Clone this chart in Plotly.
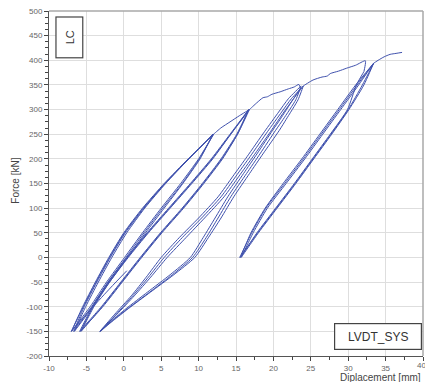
import plotly.graph_objects as go

# ---------------- data ----------------
# start of record and first move to -150 kN
start_disp = [0.4, -1.8, -4.2, -6.6]
start_force = [-27, -62, -102, -150]

# stage A: cycles between -150 and 250 kN
a_up_force = [-150, -100, -50, 0, 50, 100, 150, 200, 250]
a_down_force = [250, 200, 150, 100, 50, 0, -50, -100, -150]
a_up1 = [-6.6, -5.1, -3.4, -1.6, 0.4, 2.8, 5.6, 8.7, 12.0]
a_down1 = [12.0, 10.0, 7.6, 5.0, 2.5, 0.1, -2.3, -4.5, -7.0]
a_up2 = [-7.0, -5.5, -3.8, -2.0, 0.0, 2.5, 5.4, 8.6, 12.0]
a_down2 = [12.0, 10.1, 7.8, 5.2, 2.7, 0.3, -2.1, -4.3, -6.7]
a_up3 = [-6.7, -5.3, -3.6, -1.8, 0.2, 2.7, 5.5, 8.7, 11.9]
a_down3 = [11.9, 10.2, 7.9, 5.4, 2.9, 0.5, -1.9, -4.2, -7.0]
a_up4 = [-7.0, -5.4, -3.7, -1.9, 0.1, 2.6, 5.5, 8.7, 12.0]

# envelope from 250 to 300 kN
env_ab_disp = [12.0, 13.0, 14.2, 15.5, 16.8]
env_ab_force = [250, 263, 275, 288, 300]

# stage B: cycles between -150 and 300 kN
b_down_force = [300, 250, 200, 150, 100, 50, 0, -50, -100, -150]
b_up_force = [-150, -100, -50, 0, 50, 100, 150, 200, 250, 300]
b_down1 = [16.8, 15.2, 13.1, 10.6, 7.9, 5.0, 2.3, -0.3, -2.9, -5.7]
b_up1 = [-5.7, -4.0, -1.9, 0.6, 3.3, 6.2, 9.1, 11.9, 14.3, 16.7]
b_down2 = [16.7, 15.1, 13.0, 10.5, 7.8, 4.9, 2.2, -0.4, -3.0, -5.9]
b_up2 = [-5.9, -4.2, -2.1, 0.4, 3.1, 6.0, 8.9, 11.7, 14.2, 16.7]
b_down3 = [16.7, 15.2, 13.2, 10.7, 8.0, 5.1, 2.4, -0.2, -2.8, -5.8]
b_up3 = [-5.8, -4.1, -2.0, 0.5, 3.2, 6.1, 9.0, 11.8, 14.3, 16.8]

# envelope from 300 to 350 kN
env_bc_disp = [16.8, 17.8, 18.6, 19.2, 19.8, 20.9, 22.0, 22.8, 23.4, 23.6]
env_bc_force = [300, 314, 324, 326, 331, 336, 342, 346, 351, 343]

# stage C: cycles between -150 and 350 kN
c_down_force = [343, 320, 280, 258, 210, 170, 123, 80, 40, 0, -35, -70, -104, -128, -150]
c_up_force = [-150, -115, -78, -40, 0, 40, 80, 123, 165, 205, 255, 295, 322, 348]
c_down1 = [23.6, 22.6, 20.9, 19.9, 17.8, 16.0, 13.9, 12.2, 10.6, 8.9, 6.2, 3.2, 0.3, -1.6, -3.2]
c_up1 = [-3.2, -1.2, 1.0, 3.0, 5.0, 7.4, 10.0, 12.6, 14.6, 16.5, 18.8, 20.7, 22.0, 23.7]
c_down2 = [23.7, 23.0, 21.3, 20.3, 18.2, 16.4, 14.3, 12.6, 11.0, 9.2, 6.5, 3.5, 0.5, -1.5, -3.1]
c_up2 = [-3.1, -1.0, 1.2, 3.3, 5.4, 7.8, 10.4, 13.0, 15.0, 16.9, 19.2, 21.1, 22.4, 24.0]
c_down3 = [24.0, 23.3, 21.7, 20.8, 18.6, 16.8, 14.7, 13.0, 11.3, 9.5, 6.7, 3.6, 0.6, -1.4, -3.2]
c_up3 = [-3.2, -0.9, 1.4, 3.6, 5.8, 8.3, 10.8, 13.4, 15.4, 17.3, 19.6, 21.4, 22.7, 24.0]

# envelope from 350 to 400 kN
env_cd_disp = [24.0, 25.3, 26.5, 27.2, 27.6, 28.7, 29.8, 31.0, 32.3, 32.1]
env_cd_force = [348, 360, 366, 368, 373, 378, 384, 390, 399, 377]

# stage D: cycles between 0 and 400 kN
d_down_force = [377, 350, 300, 250, 200, 150, 100, 50, 0]
d_up_force = [0, 50, 100, 150, 200, 250, 300, 350, 394]
d_down1 = [32.1, 31.1, 29.9, 27.6, 25.2, 22.8, 20.3, 17.8, 15.6]
d_up1 = [15.6, 17.0, 18.9, 21.3, 23.8, 26.2, 28.6, 31.0, 33.4]
d_down2_force = [394, 350, 300, 250, 200, 150, 100, 50, 0]
d_down2 = [33.4, 31.9, 30.0, 27.7, 25.3, 22.9, 20.4, 17.9, 15.5]
d_up2 = [15.5, 17.1, 19.0, 21.5, 24.0, 26.4, 28.8, 31.2, 33.4]
d_down3 = [33.4, 32.1, 30.1, 27.8, 25.4, 23.0, 20.5, 18.0, 15.7]
d_up3 = [15.7, 17.3, 19.2, 21.7, 24.2, 26.6, 29.0, 31.4, 33.4]

# final loading to the end of the test
end_disp = [33.4, 34.0, 34.8, 35.6, 36.4, 37.2]
end_force = [394, 400, 407, 412, 414, 416]

x_tick_vals = [-10, -5, 0, 5, 10, 15, 20, 25, 30, 35, 40]
x_tick_text = ["-10", "-5", "0", "5", "10", "15", "20", "25", "30", "35", ""]
x_last_label = "40"
y_tick_vals = [-200, -150, -100, -50, 0, 50, 100, 150, 200, 250, 300, 350, 400, 450, 500]
y_tick_text = ["-200", "-150", "-100", "-50", "0", "50", "100", "150", "200", "250",
               "300", "350", "400", "450", "500"]

# ---------------- assemble the recorded path ----------------
segments = [
    (start_disp, start_force),
    (a_up1, a_up_force), (a_down1, a_down_force),
    (a_up2, a_up_force), (a_down2, a_down_force),
    (a_up3, a_up_force), (a_down3, a_down_force),
    (a_up4, a_up_force),
    (env_ab_disp, env_ab_force),
    (b_down1, b_down_force), (b_up1, b_up_force),
    (b_down2, b_down_force), (b_up2, b_up_force),
    (b_down3, b_down_force), (b_up3, b_up_force),
    (env_bc_disp, env_bc_force),
    (c_down1, c_down_force), (c_up1, c_up_force),
    (c_down2, [348] + c_down_force[1:]), (c_up2, c_up_force),
    (c_down3, [348] + c_down_force[1:]), (c_up3, c_up_force),
    (env_cd_disp, env_cd_force),
    (d_down1, d_down_force), (d_up1, d_up_force),
    (d_down2, d_down2_force), (d_up2, d_up_force),
    (d_down3, d_down2_force), (d_up3, d_up_force),
    (end_disp, end_force),
]
xs, ys = [], []
for sx, sy in segments:
    xs.extend(sx)
    ys.extend(sy)

fig = go.Figure()
fig.add_trace(go.Scatter(x=xs, y=ys, mode="lines",
                         line=dict(color="#3f51ad", width=1, shape="spline", smoothing=0.6),
                         showlegend=False))

axis_font = dict(family="Liberation Sans, Arial, sans-serif", size=8, color="#666666")
fig.update_xaxes(range=[-10, 40], tickvals=x_tick_vals, ticktext=x_tick_text,
                 ticks="outside", ticklen=4, tickcolor="#444444", tickwidth=1,
                 showline=True, linecolor="#555555", linewidth=1,
                 showgrid=True, gridcolor="#dedede", gridwidth=1, zeroline=False,
                 tickfont=axis_font,
                 minor=dict(dtick=2.5, tick0=0, ticks="outside", ticklen=3,
                            tickcolor="#444444", showgrid=False))
fig.update_yaxes(range=[-200, 500], tickvals=y_tick_vals, ticktext=y_tick_text,
                 ticks="outside", ticklen=4, tickcolor="#444444", tickwidth=1,
                 showline=True, linecolor="#555555", linewidth=1,
                 showgrid=True, gridcolor="#dedede", gridwidth=1, zeroline=False,
                 tickfont=axis_font,
                 minor=dict(dtick=12.5, tick0=0, ticks="outside", ticklen=3,
                            tickcolor="#444444", showgrid=False))

fig.update_layout(
    width=425, height=382,
    margin=dict(l=49, r=2, t=11, b=26),
    paper_bgcolor="white", plot_bgcolor="white",
    font=dict(family="Liberation Sans, Arial, sans-serif", color="#444444"),
    shapes=[
        dict(type="line", xref="paper", yref="paper", x0=0, x1=1, y0=1, y1=1,
             line=dict(color="#a8a8a8", width=1.5)),
        dict(type="line", xref="paper", yref="paper", x0=1, x1=1, y0=0, y1=1,
             line=dict(color="#a8a8a8", width=1.5)),
    ],
    annotations=[
        dict(text=x_last_label, xref="x", yref="paper", x=x_tick_vals[-1], y=-0.028,
             xanchor="right", yanchor="middle", xshift=5, showarrow=False,
             font=axis_font),
        dict(text="Force [kN]", xref="paper", yref="paper", x=-0.092, y=0.507,
             xanchor="center", yanchor="middle", textangle=-90, showarrow=False,
             font=dict(size=10, color="#444444")),
        dict(text="Diplacement [mm]", xref="paper", yref="paper", x=1.0, y=-0.062,
             xanchor="right", yanchor="middle", showarrow=False,
             font=dict(size=10, color="#444444")),
        dict(text="LVDT_SYS", xref="paper", yref="paper", x=0.879, y=0.0577,
             xanchor="center", yanchor="middle", showarrow=False,
             width=84, height=23, borderpad=1, bordercolor="#444444", borderwidth=1.2,
             bgcolor="white", font=dict(size=12, color="#333333")),
        dict(text="LC", xref="paper", yref="paper", x=0.0545, y=0.9246,
             xanchor="center", yanchor="middle", showarrow=False, textangle=-90,
             width=38, height=24, borderpad=1, bordercolor="#444444", borderwidth=1.2,
             bgcolor="white", font=dict(size=11, color="#333333")),
    ],
)

fig.write_html("out.html", config={"displayModeBar": False},
               post_script="document.body.style.margin='0';document.body.style.overflow='hidden';")
